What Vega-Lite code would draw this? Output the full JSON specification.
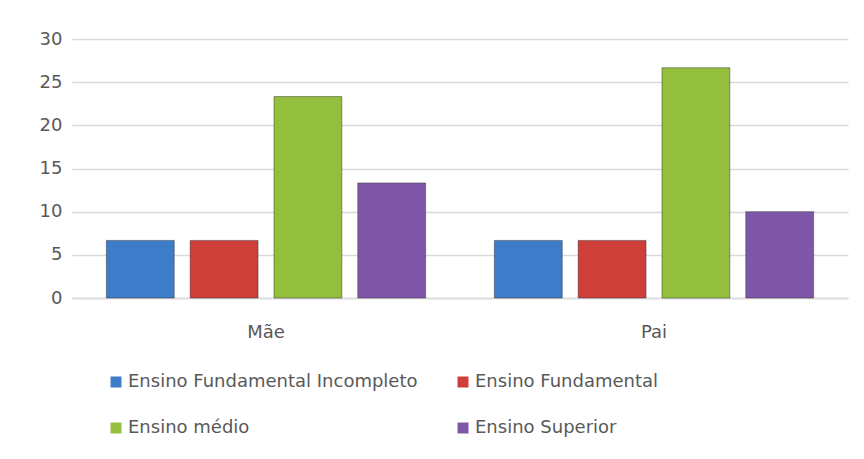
{
  "$schema": "https://vega.github.io/schema/vega-lite/v6.json",
  "width": 776,
  "height": 259,
  "autosize": {"type": "none"},
  "padding": {"left": 72, "top": 39, "right": 16, "bottom": 161},
  "background": "white",
  "data": {
    "values": [
      {"grupo": "Mãe", "nivel": "Ensino Fundamental Incompleto", "valor": 6.67},
      {"grupo": "Mãe", "nivel": "Ensino Fundamental", "valor": 6.67},
      {"grupo": "Mãe", "nivel": "Ensino médio", "valor": 23.33},
      {"grupo": "Mãe", "nivel": "Ensino Superior", "valor": 13.33},
      {"grupo": "Pai", "nivel": "Ensino Fundamental Incompleto", "valor": 6.67},
      {"grupo": "Pai", "nivel": "Ensino Fundamental", "valor": 6.67},
      {"grupo": "Pai", "nivel": "Ensino médio", "valor": 26.67},
      {"grupo": "Pai", "nivel": "Ensino Superior", "valor": 10}
    ]
  },
  "mark": {"type": "bar", "strokeWidth": 1, "stroke": "#2a2a2a", "strokeOpacity": 0.45},
  "encoding": {
    "x": {
      "field": "grupo", "type": "nominal", "sort": ["Mãe", "Pai"],
      "scale": {"paddingInner": 0, "paddingOuter": 0},
      "axis": {"title": null, "labelAngle": 0, "ticks": false, "domainColor": "#d9d9d9", "domainWidth": 1.5, "labelPadding": 25, "labelFontSize": 18, "labelColor": "#595959", "labelFont": "DejaVu Sans"}
    },
    "xOffset": {
      "field": "nivel", "type": "nominal",
      "sort": ["Ensino Fundamental Incompleto", "Ensino Fundamental", "Ensino médio", "Ensino Superior"],
      "scale": {"paddingInner": 0.19, "paddingOuter": 0.41}
    },
    "y": {
      "field": "valor", "type": "quantitative",
      "scale": {"domain": [0, 30]},
      "axis": {"title": null, "values": [0, 5, 10, 15, 20, 25, 30], "domain": false, "ticks": false, "gridColor": "#d9d9d9", "gridWidth": 1.5, "labelPadding": 10, "labelFontSize": 18, "labelColor": "#595959", "labelFont": "DejaVu Sans"}
    },
    "color": {
      "field": "nivel", "type": "nominal",
      "sort": ["Ensino Fundamental Incompleto", "Ensino Fundamental", "Ensino médio", "Ensino Superior"],
      "scale": {"domain": ["Ensino Fundamental Incompleto", "Ensino Fundamental", "Ensino médio", "Ensino Superior"], "range": ["#3d7cc9", "#cf3f3a", "#93bf3d", "#7e57a9"]},
      "legend": {
        "title": null, "orient": "none", "legendX": 35, "legendY": 334,
        "columns": 2, "direction": "horizontal", "symbolType": "square", "symbolSize": 121,
        "symbolStrokeWidth": 0, "labelFontSize": 18, "labelColor": "#595959", "labelFont": "DejaVu Sans",
        "labelOffset": 3, "rowPadding": 28, "columnPadding": 36, "labelLimit": 400
      }
    }
  },
  "config": {"view": {"stroke": null}}
}
